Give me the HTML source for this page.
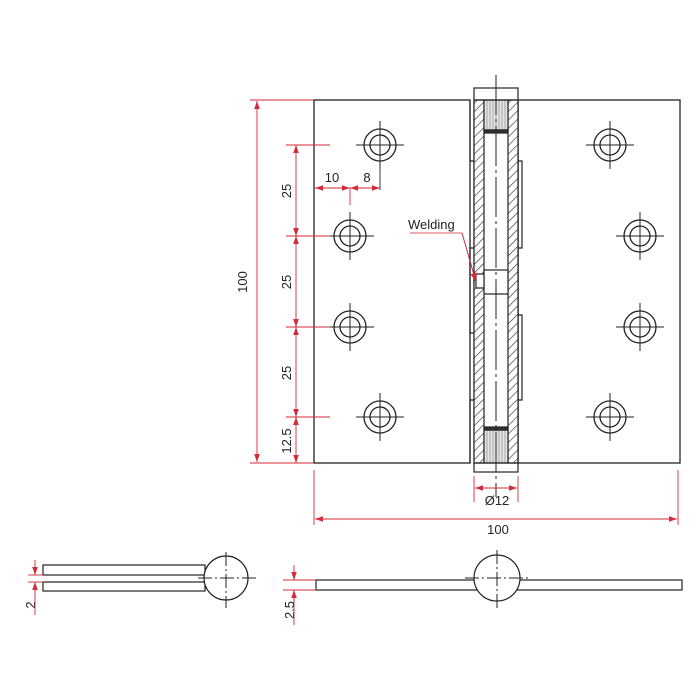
<!DOCTYPE html>
<html><head><style>html,body{margin:0;padding:0;background:#fff}svg{display:block}</style></head><body>
<svg width="700" height="700" viewBox="0 0 700 700" xmlns="http://www.w3.org/2000/svg" font-family="Liberation Sans, sans-serif">
<defs>
<pattern id="h" patternUnits="userSpaceOnUse" width="6" height="6" patternTransform="rotate(45)">
<rect width="6" height="6" fill="#fff"/><line x1="0" y1="0" x2="0" y2="6" stroke="#222" stroke-width="1.2"/></pattern>
<pattern id="g" patternUnits="userSpaceOnUse" width="3" height="4"><rect width="3" height="4" fill="#e4e4e4"/><line x1="1" y1="0" x2="1" y2="4" stroke="#999" stroke-width="0.8"/></pattern>
<marker id="a" viewBox="0 0 10 10" refX="10" refY="5" markerWidth="9" markerHeight="9" orient="auto-start-reverse"><path d="M0,1.5 L10,5 L0,8.5z" fill="#d42a3a"/></marker>
<g id="ho" fill="none" stroke="#222" stroke-width="1.3"><circle r="16"/><circle r="10"/><line x1="-24" y1="0" x2="24" y2="0" stroke-width="1"/><line x1="0" y1="-24" x2="0" y2="24" stroke-width="1"/></g>
</defs>
<g fill="none" stroke="#222" stroke-width="1.3">
<rect x="314" y="100" width="156" height="363"/>
<rect x="518" y="100" width="162" height="363"/>
</g>
<g stroke="#222" stroke-width="1.2">
<rect x="474" y="88" width="44" height="384" fill="#fff"/>
<rect x="474" y="100" width="10" height="363" fill="url(#h)"/>
<rect x="508" y="100" width="10" height="363" fill="url(#h)"/>
<rect x="484" y="100" width="24" height="30" fill="url(#g)"/>
<rect x="484" y="430" width="24" height="33" fill="url(#g)"/>
<rect x="484" y="130" width="24" height="3" fill="#333"/>
<rect x="484" y="427" width="24" height="3" fill="#333"/>
<rect x="484" y="270" width="24" height="24" fill="#fff"/>
<rect x="476" y="274" width="8" height="14" fill="#fff"/>
<g fill="none">
<polyline points="470,100 470,161 474,161"/>
<polyline points="518,161 522,161 522,248 518,248"/>
<polyline points="474,248 470,248 470,333 474,333"/>
<polyline points="518,315 522,315 522,400 518,400"/>
<polyline points="474,400 470,400 470,463"/>
</g>
<line x1="474" y1="100" x2="518" y2="100"/>
<line x1="474" y1="463" x2="518" y2="463"/>
</g>
<line x1="496" y1="75" x2="496" y2="497" stroke="#222" stroke-width="1" stroke-dasharray="40,4,3,4"/>
<text x="408" y="229" font-size="13" fill="#222">Welding</text>
<line x1="410" y1="233" x2="462" y2="233" stroke="#d42a3a" stroke-width="0.8"/>
<line x1="462" y1="233" x2="476" y2="282" stroke="#d42a3a" stroke-width="1" marker-end="url(#a)"/>
<use href="#ho" x="380" y="145"/><use href="#ho" x="350" y="236"/><use href="#ho" x="350" y="327"/><use href="#ho" x="380" y="417"/>
<use href="#ho" x="610" y="145"/><use href="#ho" x="640" y="236"/><use href="#ho" x="640" y="327"/><use href="#ho" x="610" y="417"/>
<g stroke="#d42a3a" stroke-width="0.9" fill="none">
<line x1="250" y1="100" x2="314" y2="100"/><line x1="250" y1="463" x2="314" y2="463"/>
<line x1="257" y1="101" x2="257" y2="462" marker-start="url(#a)" marker-end="url(#a)"/>
<line x1="286" y1="145" x2="330" y2="145"/><line x1="286" y1="236" x2="330" y2="236"/>
<line x1="286" y1="327" x2="330" y2="327"/><line x1="286" y1="417" x2="330" y2="417"/>
<line x1="296" y1="145" x2="296" y2="236" marker-start="url(#a)" marker-end="url(#a)"/>
<line x1="296" y1="236" x2="296" y2="327" marker-start="url(#a)" marker-end="url(#a)"/>
<line x1="296" y1="327" x2="296" y2="417" marker-start="url(#a)" marker-end="url(#a)"/>
<line x1="296" y1="417" x2="296" y2="463" marker-start="url(#a)" marker-end="url(#a)"/>
<line x1="315" y1="188" x2="350" y2="188" marker-start="url(#a)" marker-end="url(#a)"/>
<line x1="350" y1="188" x2="380" y2="188" marker-start="url(#a)" marker-end="url(#a)"/>
<line x1="350" y1="188" x2="350" y2="205"/>
<line x1="380" y1="160" x2="380" y2="190" stroke="#222"/>
<line x1="474" y1="476" x2="474" y2="502"/><line x1="518" y1="476" x2="518" y2="502"/>
<line x1="475" y1="488" x2="517" y2="488" marker-start="url(#a)" marker-end="url(#a)"/>
<line x1="314" y1="470" x2="314" y2="525"/><line x1="678" y1="470" x2="678" y2="525"/>
<line x1="315" y1="519" x2="677" y2="519" marker-start="url(#a)" marker-end="url(#a)"/>
</g>
<g font-size="13" fill="#222" text-anchor="middle">
<text transform="translate(247,282) rotate(-90)">100</text>
<text transform="translate(291,191) rotate(-90)">25</text>
<text transform="translate(291,282) rotate(-90)">25</text>
<text transform="translate(291,373) rotate(-90)">25</text>
<text transform="translate(291,441) rotate(-90)">12.5</text>
<text x="332" y="182">10</text><text x="367" y="182">8</text>
<text x="497" y="505">Ø12</text>
<text x="498" y="534">100</text>
<text transform="translate(35,605) rotate(-90)">2</text>
<text transform="translate(294,610) rotate(-90)">2.5</text>
</g>
<g fill="#fff" stroke="#222" stroke-width="1.2">
<rect x="43" y="565" width="162" height="10"/>
<rect x="43" y="582" width="162" height="9"/>
<circle cx="226" cy="578" r="22"/>
<rect x="316" y="580" width="366" height="10"/>
<circle cx="497" cy="578" r="23"/>
</g>
<g stroke="#222" stroke-width="1" stroke-dasharray="14,3,2,3">
<line x1="198" y1="578" x2="256" y2="578"/><line x1="226" y1="552" x2="226" y2="608"/>
<line x1="465" y1="578" x2="528" y2="578"/><line x1="497" y1="550" x2="497" y2="608"/>
</g>
<g stroke="#d42a3a" stroke-width="0.9" fill="none">
<line x1="28" y1="575" x2="43" y2="575"/><line x1="28" y1="582" x2="43" y2="582"/>
<line x1="35" y1="560" x2="35" y2="575" marker-end="url(#a)"/>
<line x1="35" y1="597" x2="35" y2="582" marker-end="url(#a)"/>
<line x1="35" y1="582" x2="35" y2="615"/>
<line x1="283" y1="580" x2="316" y2="580"/><line x1="283" y1="590" x2="316" y2="590"/>
<line x1="294" y1="565" x2="294" y2="580" marker-end="url(#a)"/>
<line x1="294" y1="605" x2="294" y2="590" marker-end="url(#a)"/>
<line x1="294" y1="590" x2="294" y2="625"/>
</g>
</svg>
</body></html>
